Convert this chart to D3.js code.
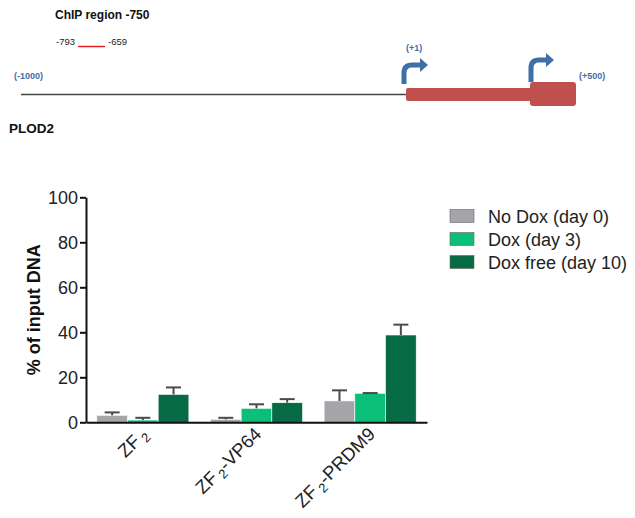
<!DOCTYPE html>
<html>
<head>
<meta charset="utf-8">
<script src="https://cdn.jsdelivr.net/npm/d3@7"></script>
<style>
  body { margin: 0; background: #fff; }
  svg { display: block; font-family: "Liberation Sans", Arial, sans-serif; }
</style>
</head>
<body>
<svg id="chart" width="635" height="518"></svg>
<script>
// chart values
const groups = ["ZF2", "ZF2-VP64", "ZF2-PRDM9"];
const groupSuffix = ["", "-VP64", "-PRDM9"];
const seriesNames = ["No Dox (day 0)", "Dox (day 3)", "Dox free (day 10)"];
const seriesColors = ["#a4a4a9", "#0cbf79", "#066b45"];
const means = [
  [3.1, 1.0, 12.4],
  [1.3, 6.2, 8.7],
  [9.5, 12.9, 38.8],
];
const errors = [
  [1.3, 1.0, 3.1],
  [0.7, 1.8, 1.6],
  [4.7, 0.1, 4.6],
];
const yTicks = [0, 20, 40, 60, 80, 100];

// gene diagram positions (bp)
const regionStart = -793;
const regionEnd = -659;

const svg = d3.select("#chart");

// ---------- gene diagram ----------
const diagram = svg.append("g");
const blue = "#3f6fa6";
const red = "#c0504d";

diagram.append("text")
  .attr("x", 55).attr("y", 19)
  .attr("font-size", 12).attr("font-weight", "bold").attr("fill", "#111")
  .text("ChIP region -750");

diagram.append("text")
  .attr("x", 56).attr("y", 45)
  .attr("font-size", 9.5).attr("fill", "#222")
  .text(regionStart);
diagram.append("line")
  .attr("x1", 78).attr("x2", 105).attr("y1", 46.5).attr("y2", 46.5)
  .attr("stroke", "#e52520").attr("stroke-width", 1.5);
diagram.append("text")
  .attr("x", 108).attr("y", 45)
  .attr("font-size", 9.5).attr("fill", "#222")
  .text(regionEnd);

diagram.append("text")
  .attr("x", 14).attr("y", 79)
  .attr("font-size", 9).attr("font-weight", "bold").attr("fill", blue)
  .text("(-1000)");

diagram.append("line")
  .attr("x1", 21).attr("x2", 406).attr("y1", 94.5).attr("y2", 94.5)
  .attr("stroke", "#444").attr("stroke-width", 1.5);

diagram.append("rect")
  .attr("x", 406).attr("y", 88).attr("width", 128).attr("height", 13)
  .attr("rx", 2).attr("fill", red);
diagram.append("rect")
  .attr("x", 530).attr("y", 82).attr("width", 46).attr("height", 24)
  .attr("rx", 3).attr("fill", red);

function bentArrow(x, yBase, yTop, xEnd) {
  const r = 8;
  diagram.append("path")
    .attr("d", `M${x},${yBase} L${x},${yTop + r} Q${x},${yTop} ${x + r},${yTop} L${xEnd - 6},${yTop}`)
    .attr("fill", "none").attr("stroke", blue).attr("stroke-width", 5);
  diagram.append("path")
    .attr("d", `M${xEnd - 7},${yTop - 7} L${xEnd + 1},${yTop} L${xEnd - 7},${yTop + 7} Z`)
    .attr("fill", blue);
}
bentArrow(404, 84, 65, 427);
bentArrow(531, 82, 60, 553);

diagram.append("text")
  .attr("x", 406).attr("y", 51)
  .attr("font-size", 9).attr("font-weight", "bold").attr("fill", blue)
  .text("(+1)");
diagram.append("text")
  .attr("x", 579).attr("y", 79)
  .attr("font-size", 9).attr("font-weight", "bold").attr("fill", blue)
  .text("(+500)");

diagram.append("text")
  .attr("x", 9).attr("y", 133)
  .attr("font-size", 13.5).attr("font-weight", "bold").attr("fill", "#111")
  .text("PLOD2");

// ---------- bar chart ----------
const plot = { left: 86, right: 427, top: 197.3, bottom: 422.3 };

const y = d3.scaleLinear().domain([0, 100]).range([plot.bottom, plot.top]);
const x0 = d3.scaleBand()
  .domain(groups)
  .range([plot.left, plot.right])
  .paddingInner(0.19)
  .paddingOuter(0.095);
const x1 = d3.scaleBand()
  .domain(d3.range(seriesNames.length))
  .range([0, x0.bandwidth()]);

const rows = groups.map((g, gi) =>
  seriesNames.map((s, si) => ({ g, si, v: means[gi][si], e: errors[gi][si] }))
);

const barG = svg.append("g")
  .selectAll("g")
  .data(rows)
  .join("g")
  .attr("transform", (d, i) => `translate(${x0(groups[i])},0)`);

barG.selectAll("rect")
  .data((d) => d)
  .join("rect")
  .attr("x", (d) => x1(d.si))
  .attr("y", (d) => y(d.v))
  .attr("width", x1.bandwidth())
  .attr("height", (d) => y(0) - y(d.v))
  .attr("fill", (d) => seriesColors[d.si])
  .attr("stroke", "#fff")
  .attr("stroke-width", 0.6);

// upper error bars
const errG = barG.selectAll("g.err")
  .data((d) => d)
  .join("g")
  .attr("class", "err")
  .attr("stroke", "#4a4a4a")
  .attr("stroke-width", 2);
errG.append("line")
  .attr("x1", (d) => x1(d.si) + x1.bandwidth() / 2)
  .attr("x2", (d) => x1(d.si) + x1.bandwidth() / 2)
  .attr("y1", (d) => y(d.v))
  .attr("y2", (d) => y(d.v + d.e));
errG.append("line")
  .attr("x1", (d) => x1(d.si) + x1.bandwidth() / 2 - 7.5)
  .attr("x2", (d) => x1(d.si) + x1.bandwidth() / 2 + 7.5)
  .attr("y1", (d) => y(d.v + d.e))
  .attr("y2", (d) => y(d.v + d.e));

// Y axis
const yAxis = svg.append("g")
  .attr("transform", `translate(${plot.left},0)`)
  .call(d3.axisLeft(y).tickValues(yTicks).tickSize(6).tickSizeOuter(0).tickPadding(2));
yAxis.selectAll("path, line").attr("stroke", "#111").attr("stroke-width", 2);
yAxis.selectAll("text")
  .attr("font-size", 18)
  .attr("font-family", "Liberation Sans, Arial, sans-serif")
  .attr("fill", "#222");

// X axis
const xAxis = svg.append("g")
  .attr("transform", `translate(0,${plot.bottom})`)
  .call(d3.axisBottom(x0).tickSize(0).tickSizeOuter(0).tickFormat(""));
xAxis.select("path").attr("stroke", "#111").attr("stroke-width", 2);

xAxis.selectAll(".tick text").remove();
xAxis.selectAll(".tick")
  .append("text")
  .attr("transform", "translate(6,13) rotate(-45)")
  .attr("text-anchor", "end")
  .attr("font-size", 18.5)
  .attr("font-family", "Liberation Sans, Arial, sans-serif")
  .attr("fill", "#222")
  .each(function (d, i) {
    const t = d3.select(this);
    t.append("tspan").attr("fill", "#222").text("ZF");
    t.append("tspan").attr("fill", "#222").attr("dx", 3).attr("dy", 4)
      .attr("font-size", 13).text("2");
    if (groupSuffix[i]) t.append("tspan").attr("fill", "#222").attr("dy", -4).text(groupSuffix[i]);
  });

// Y title
svg.append("text")
  .attr("transform", `translate(40,${(plot.top + plot.bottom) / 2}) rotate(-90)`)
  .attr("text-anchor", "middle")
  .attr("font-size", 18)
  .attr("font-weight", "bold")
  .attr("fill", "#111")
  .text("% of input DNA");

// legend
const legend = svg.append("g")
  .selectAll("g")
  .data(seriesNames)
  .join("g")
  .attr("transform", (d, i) => `translate(450,${216 + i * 23})`);
legend.append("rect")
  .attr("x", 0).attr("y", -6.5)
  .attr("width", 24).attr("height", 13)
  .attr("fill", (d, i) => seriesColors[i])
  .attr("stroke", "#666").attr("stroke-width", 0.6);
legend.append("text")
  .attr("x", 38).attr("y", 6.5)
  .attr("font-size", 18)
  .attr("fill", "#222")
  .text((d) => d);
</script>
</body>
</html>
